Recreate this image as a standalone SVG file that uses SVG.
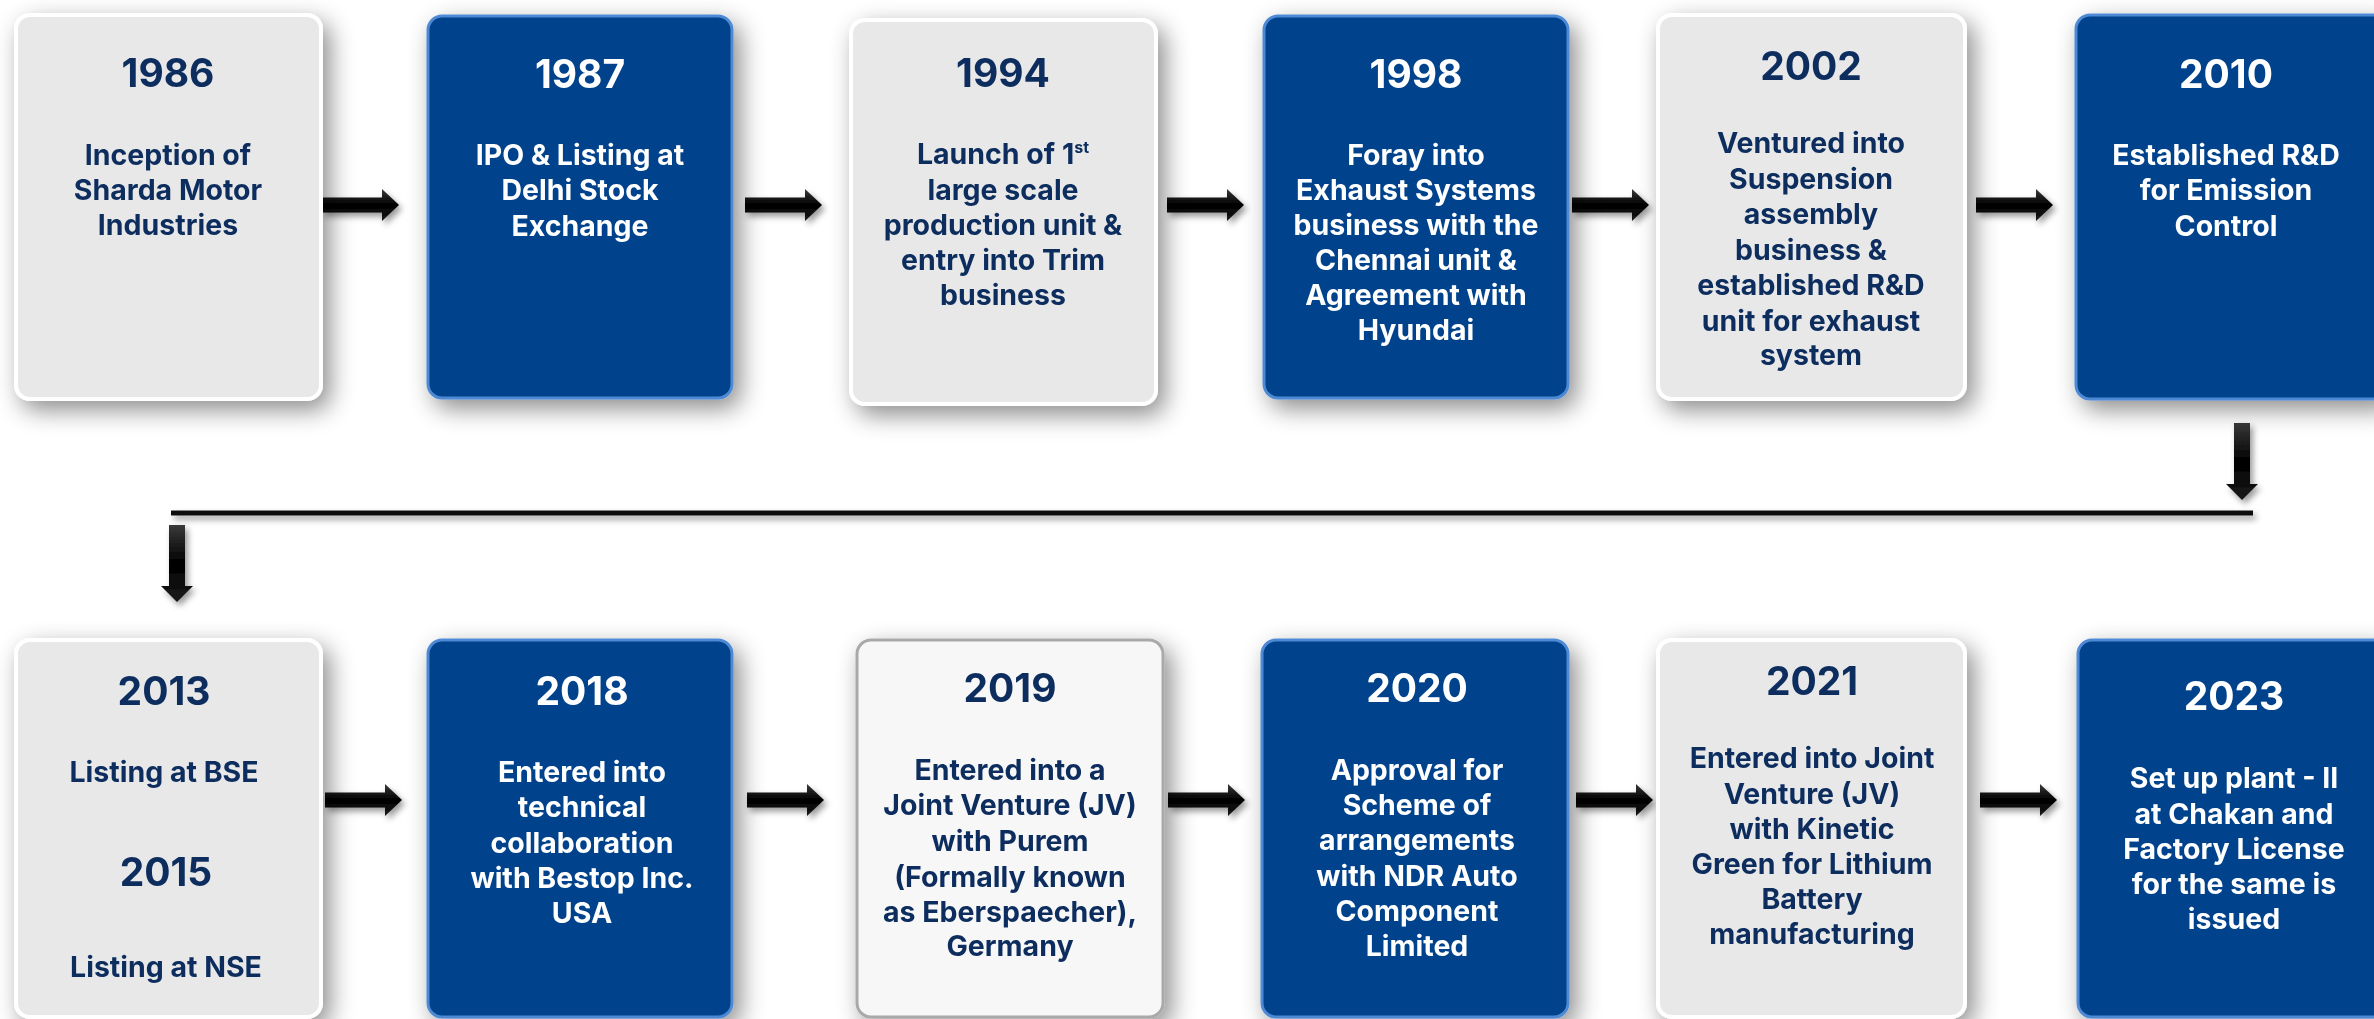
<svg xmlns="http://www.w3.org/2000/svg" width="2374" height="1019" viewBox="0 0 2374 1019">
<defs>
<style>
.yr{font-family:Inter,"Liberation Sans",sans-serif;font-weight:700;font-size:39px;text-anchor:middle}
.tx{font-family:Inter,"Liberation Sans",sans-serif;font-weight:700;font-size:28.5px;text-anchor:middle}
.dk{fill:#0c2d5e}
.wt{fill:#ffffff}
.light{fill:#e8e8e8;stroke:#ffffff;stroke-width:4}
.white{fill:#f7f7f7;stroke:#a9a9a9;stroke-width:3}
.blue{fill:#01438b;stroke:#4d89d4;stroke-width:3}
.arr{fill:url(#ag)}
</style>
<linearGradient id="ag" x1="0" y1="0" x2="0" y2="1">
<stop offset="0" stop-color="#3a3a3a"/>
<stop offset="0.5" stop-color="#000"/>
<stop offset="1" stop-color="#1a1a1a"/>
</linearGradient>
<filter id="sh" x="-25%" y="-25%" width="150%" height="150%">
<feDropShadow dx="7" dy="9" stdDeviation="12" flood-color="#000" flood-opacity="0.45"/>
</filter>
<filter id="ash" x="-30%" y="-60%" width="160%" height="220%">
<feDropShadow dx="3" dy="4" stdDeviation="3" flood-color="#000" flood-opacity="0.4"/>
</filter>
<path id="ha" d="M0,-7.5 H60 V-16 L77,0 L60,16 V7.5 H0 Z"/>
<path id="va" d="M-8,0 V61 H-16 L0,77 L16,61 H8 V0 Z"/>
</defs>
<rect width="2374" height="1019" fill="#ffffff"/>

<g id="connectors" filter="url(#ash)">
<use href="#ha" class="arr" x="322" y="205"/>
<use href="#ha" class="arr" x="745" y="205"/>
<use href="#ha" class="arr" x="1167" y="205"/>
<use href="#ha" class="arr" x="1572" y="205"/>
<use href="#ha" class="arr" x="1976" y="205"/>
<use href="#va" class="arr" x="2242" y="423"/>
<line x1="171" y1="513" x2="2253" y2="513" stroke="#111" stroke-width="5"/>
<use href="#va" class="arr" x="177" y="525"/>
<use href="#ha" class="arr" x="325" y="800"/>
<use href="#ha" class="arr" x="747" y="800"/>
<use href="#ha" class="arr" x="1168" y="800"/>
<use href="#ha" class="arr" x="1576" y="800"/>
<use href="#ha" class="arr" x="1980" y="800"/>
</g>

<g id="n1986">
<rect x="16" y="15" width="305" height="384" rx="14" class="light" filter="url(#sh)"/>
<text class="yr dk" x="168" y="87">1986</text>
<text class="tx dk" x="168" y="165">Inception of</text>
<text class="tx dk" x="168" y="200">Sharda Motor</text>
<text class="tx dk" x="168" y="235">Industries</text>
</g>

<g id="n1987">
<rect x="428" y="16" width="304" height="382" rx="14" class="blue" filter="url(#sh)"/>
<text class="yr wt" x="580" y="88">1987</text>
<text class="tx wt" x="580" y="165">IPO &amp; Listing at</text>
<text class="tx wt" x="580" y="200">Delhi Stock</text>
<text class="tx wt" x="580" y="236">Exchange</text>
</g>

<g id="n1994">
<rect x="851" y="20" width="305" height="384" rx="14" class="light" filter="url(#sh)"/>
<text class="yr dk" x="1003" y="87">1994</text>
<text class="tx dk" x="1003" y="164">Launch of 1<tspan font-size="16" dy="-11">st</tspan></text>
<text class="tx dk" x="1003" y="200">large scale</text>
<text class="tx dk" x="1003" y="235">production unit &amp;</text>
<text class="tx dk" x="1003" y="270">entry into Trim</text>
<text class="tx dk" x="1003" y="305">business</text>
</g>

<g id="n1998">
<rect x="1264" y="16" width="304" height="382" rx="14" class="blue" filter="url(#sh)"/>
<text class="yr wt" x="1416" y="88">1998</text>
<text class="tx wt" x="1416" y="165">Foray into</text>
<text class="tx wt" x="1416" y="200">Exhaust Systems</text>
<text class="tx wt" x="1416" y="235">business with the</text>
<text class="tx wt" x="1416" y="270">Chennai unit &amp;</text>
<text class="tx wt" x="1416" y="305">Agreement with</text>
<text class="tx wt" x="1416" y="340">Hyundai</text>
</g>

<g id="n2002">
<rect x="1658" y="15" width="307" height="384" rx="14" class="light" filter="url(#sh)"/>
<text class="yr dk" x="1811" y="80">2002</text>
<text class="tx dk" x="1811" y="153">Ventured into</text>
<text class="tx dk" x="1811" y="189">Suspension</text>
<text class="tx dk" x="1811" y="224">assembly</text>
<text class="tx dk" x="1811" y="260">business &amp;</text>
<text class="tx dk" x="1811" y="295">established R&amp;D</text>
<text class="tx dk" x="1811" y="331">unit for exhaust</text>
<text class="tx dk" x="1811" y="365">system</text>
</g>

<g id="n2010">
<rect x="2076" y="15" width="312" height="384" rx="14" class="blue" filter="url(#sh)"/>
<text class="yr wt" x="2226" y="88">2010</text>
<text class="tx wt" x="2226" y="165">Established R&amp;D</text>
<text class="tx wt" x="2226" y="200">for Emission</text>
<text class="tx wt" x="2226" y="236">Control</text>
</g>

<g id="n2013">
<rect x="16" y="640" width="305" height="377" rx="14" class="light" filter="url(#sh)"/>
<text class="yr dk" x="164" y="705">2013</text>
<text class="tx dk" x="164" y="782">Listing at BSE</text>
<text class="yr dk" x="166" y="886">2015</text>
<text class="tx dk" x="166" y="977">Listing at NSE</text>
</g>

<g id="n2018">
<rect x="428" y="640" width="304" height="377" rx="14" class="blue" filter="url(#sh)"/>
<text class="yr wt" x="582" y="705">2018</text>
<text class="tx wt" x="582" y="782">Entered into</text>
<text class="tx wt" x="582" y="817">technical</text>
<text class="tx wt" x="582" y="853">collaboration</text>
<text class="tx wt" x="582" y="888">with Bestop Inc.</text>
<text class="tx wt" x="582" y="923">USA</text>
</g>

<g id="n2019">
<rect x="857" y="640" width="306" height="377" rx="14" class="white" filter="url(#sh)"/>
<text class="yr dk" x="1010" y="702">2019</text>
<text class="tx dk" x="1010" y="780">Entered into a</text>
<text class="tx dk" x="1010" y="815">Joint Venture (JV)</text>
<text class="tx dk" x="1010" y="851">with Purem</text>
<text class="tx dk" x="1010" y="887">(Formally known</text>
<text class="tx dk" x="1010" y="922">as Eberspaecher),</text>
<text class="tx dk" x="1010" y="956">Germany</text>
</g>

<g id="n2020">
<rect x="1262" y="640" width="306" height="377" rx="14" class="blue" filter="url(#sh)"/>
<text class="yr wt" x="1417" y="702">2020</text>
<text class="tx wt" x="1417" y="780">Approval for</text>
<text class="tx wt" x="1417" y="815">Scheme of</text>
<text class="tx wt" x="1417" y="850">arrangements</text>
<text class="tx wt" x="1417" y="886">with NDR Auto</text>
<text class="tx wt" x="1417" y="921">Component</text>
<text class="tx wt" x="1417" y="956">Limited</text>
</g>

<g id="n2021">
<rect x="1658" y="640" width="307" height="377" rx="14" class="light" filter="url(#sh)"/>
<text class="yr dk" x="1812" y="695">2021</text>
<text class="tx dk" x="1812" y="768">Entered into Joint</text>
<text class="tx dk" x="1812" y="804">Venture (JV)</text>
<text class="tx dk" x="1812" y="839">with Kinetic</text>
<text class="tx dk" x="1812" y="874">Green for Lithium</text>
<text class="tx dk" x="1812" y="909">Battery</text>
<text class="tx dk" x="1812" y="944">manufacturing</text>
</g>

<g id="n2023">
<rect x="2078" y="640" width="312" height="377" rx="14" class="blue" filter="url(#sh)"/>
<text class="yr wt" x="2234" y="710">2023</text>
<text class="tx wt" x="2234" y="788">Set up plant - II</text>
<text class="tx wt" x="2234" y="824">at Chakan and</text>
<text class="tx wt" x="2234" y="859">Factory License</text>
<text class="tx wt" x="2234" y="894">for the same is</text>
<text class="tx wt" x="2234" y="929">issued</text>
</g>
</svg>
